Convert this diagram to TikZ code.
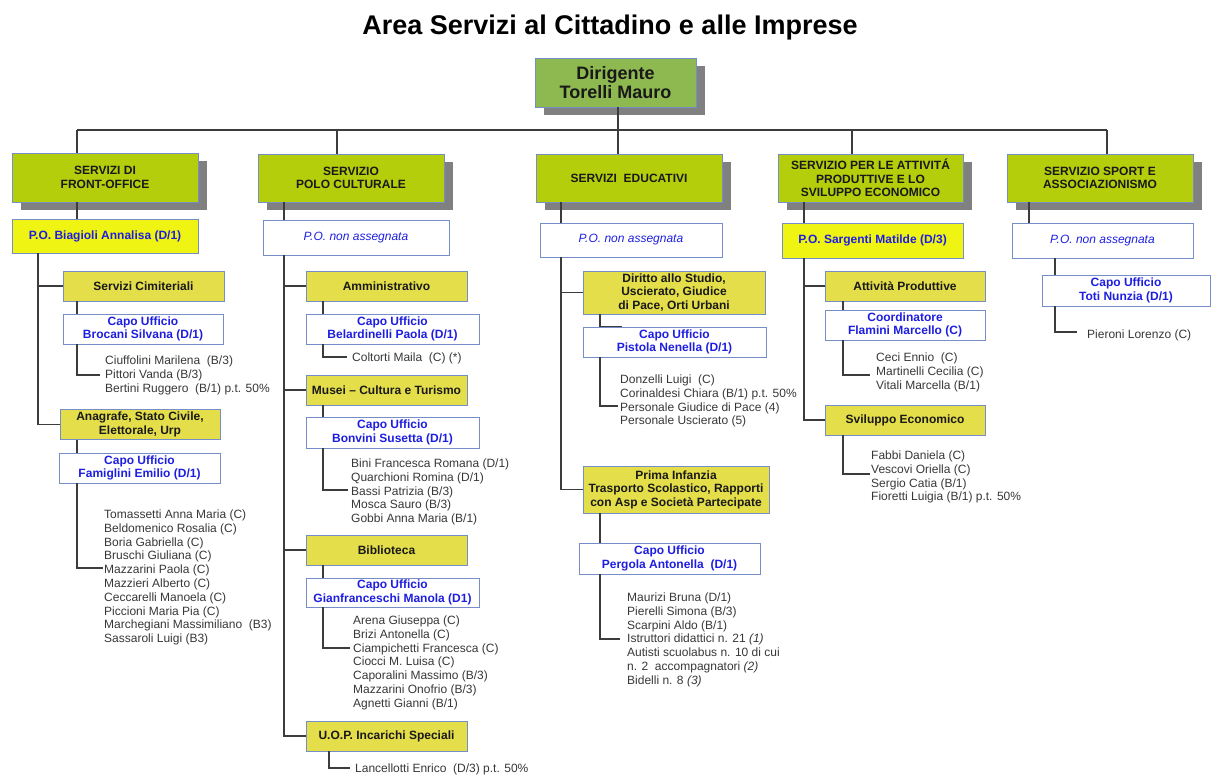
\documentclass[tikz,border=0pt]{standalone}
\usepackage{fontspec}
\setmainfont{Liberation Sans}
\usetikzlibrary{shadows}
\definecolor{dirg}{RGB}{141,185,80}
\definecolor{svcg}{RGB}{180,206,12}
\definecolor{suby}{RGB}{228,222,74}
\definecolor{poy}{RGB}{240,244,18}
\definecolor{bord}{RGB}{118,142,200}
\definecolor{bluet}{RGB}{30,30,225}
\definecolor{shad}{RGB}{128,128,128}
\definecolor{lnc}{RGB}{60,60,60}
\definecolor{txtd}{RGB}{25,25,25}
\definecolor{txtl}{RGB}{55,55,55}
\newcommand{\lstrut}{\rule{0pt}{10pt}}
\begin{document}
\begin{tikzpicture}[x=1pt,y=-1pt,
  bx/.style={draw=bord, line width=0.9pt, inner sep=0pt, align=center, text=txtd, font=\bfseries\fontsize{12}{13.5}\selectfont},
  shd/.style={drop shadow={shadow xshift=8.5pt, shadow yshift=-8pt, fill=shad, opacity=1}},
  dirbox/.style={bx, fill=dirg, shd, font=\bfseries\fontsize{18}{19.6}\selectfont},
  svcbox/.style={bx, fill=svcg, shd},
  subbox/.style={bx, fill=suby},
  pobox/.style={bx, fill=poy, text=bluet},
  capobox/.style={bx, fill=white, text=bluet},
  nabox/.style={bx, fill=white, text=bluet, font=\itshape\fontsize{12}{13.5}\selectfont},
  lst/.style={anchor=north west, inner sep=0pt, align=left, text=txtl, font=\fontsize{12}{13.8}\selectfont},
  ln/.style={draw=lnc, line width=1.2pt},
  ttl/.style={anchor=base, inner sep=0pt, text=black, font=\bfseries\fontsize{27}{30}\selectfont}
]
\useasboundingbox (0,0) rectangle (1216,783);

\node[ttl] (title) at (610,35) {Area Servizi al Cittadino e alle Imprese};
\node[dirbox, minimum width=161, minimum height=49] (dirig) at (615.5,82.5) {Dirigente\\Torelli Mauro};

% ---------- column 1
\node[svcbox, minimum width=186, minimum height=49] (fo) at (105,177.5) {SERVIZI DI\\FRONT-OFFICE};
\node[pobox, minimum width=186, minimum height=34] (po1) at (105,236) {P.O. Biagioli Annalisa (D/1)};
\node[subbox, minimum width=161, minimum height=30] (cim) at (143.5,286) {Servizi Cimiteriali};
\node[capobox, minimum width=160, minimum height=30] (cu1) at (143,329) {Capo Ufficio\\Brocani Silvana (D/1)};
\node[lst] (l1) at (105,354.3) {\lstrut Ciuffolini Marilena\ \ (B/3)\\Pittori Vanda (B/3)\\Bertini Ruggero\ \ (B/1) p.t. 50\%};
\node[subbox, minimum width=160, minimum height=30] (ana) at (140,424.5) {Anagrafe, Stato Civile,\\Elettorale, Urp};
\node[capobox, minimum width=161, minimum height=30] (cu2) at (139.5,468) {Capo Ufficio\\Famiglini Emilio (D/1)};
\node[lst] (l2) at (104,508.3) {\lstrut Tomassetti Anna Maria (C)\\Beldomenico Rosalia (C)\\Boria Gabriella (C)\\Bruschi Giuliana (C)\\Mazzarini Paola (C)\\Mazzieri Alberto (C)\\Ceccarelli Manoela (C)\\Piccioni Maria Pia (C)\\Marchegiani Massimiliano\ \ (B3)\\Sassaroli Luigi (B3)};

% ---------- column 2
\node[svcbox, minimum width=186, minimum height=48] (pc) at (351,178) {SERVIZIO\\POLO CULTURALE};
\node[nabox, minimum width=186, minimum height=35] (po2) at (356,237.5) {P.O. non assegnata};
\node[subbox, minimum width=161, minimum height=30] (amm) at (386.5,286) {Amministrativo};
\node[capobox, minimum width=173, minimum height=30] (cu3) at (392.5,329) {Capo Ufficio\\Belardinelli Paola (D/1)};
\node[lst] (l3) at (352,351.3) {\lstrut Coltorti Maila\ \ (C) (*)};
\node[subbox, minimum width=161, minimum height=30] (mus) at (386.5,390) {Musei – Cultura e Turismo};
\node[capobox, minimum width=173, minimum height=31] (cu4) at (392.5,432.5) {Capo Ufficio\\Bonvini Susetta (D/1)};
\node[lst] (l4) at (351,457.3) {\lstrut Bini Francesca Romana (D/1)\\Quarchioni Romina (D/1)\\Bassi Patrizia (B/3)\\Mosca Sauro (B/3)\\Gobbi Anna Maria (B/1)};
\node[subbox, minimum width=161, minimum height=30] (bib) at (386.5,550) {Biblioteca};
\node[capobox, minimum width=173, minimum height=29] (cu5) at (392.5,592.5) {Capo Ufficio\\Gianfranceschi Manola (D1)};
\node[lst] (l5) at (353,614.3) {\lstrut Arena Giuseppa (C)\\Brizi Antonella (C)\\Ciampichetti Francesca (C)\\Ciocci M. Luisa (C)\\Caporalini Massimo (B/3)\\Mazzarini Onofrio (B/3)\\Agnetti Gianni (B/1)};
\node[subbox, minimum width=161, minimum height=30] (uop) at (386.5,736) {U.O.P. Incarichi Speciali};
\node[lst] (l6) at (355,762.3) {\lstrut Lancellotti Enrico\ \ (D/3) p.t. 50\%};

% ---------- column 3
\node[svcbox, minimum width=186, minimum height=48] (ed) at (629,178) {SERVIZI\ \ EDUCATIVI};
\node[nabox, minimum width=182, minimum height=34] (po3) at (631,240) {P.O. non assegnata};
\node[subbox, minimum width=182, minimum height=43] (dir) at (674,292.5) {Diritto allo Studio,\\Uscierato, Giudice\\di Pace, Orti Urbani};
\node[capobox, minimum width=183, minimum height=30] (cu6) at (674.5,342) {Capo Ufficio\\Pistola Nenella (D/1)};
\node[lst] (l7) at (620,373.3) {\lstrut Donzelli Luigi\ \ (C)\\Corinaldesi Chiara (B/1) p.t. 50\%\\Personale Giudice di Pace (4)\\Personale Uscierato (5)};
\node[subbox, minimum width=186, minimum height=47] (pri) at (676,489.5) {Prima Infanzia\\Trasporto Scolastico, Rapporti\\con Asp e Società Partecipate};
\node[capobox, minimum width=181, minimum height=31] (cu7) at (669.5,558.5) {Capo Ufficio\\Pergola Antonella\ \ (D/1)};
\node[lst] (l8) at (627,591.3) {\lstrut Maurizi Bruna (D/1)\\Pierelli Simona (B/3)\\Scarpini Aldo (B/1)\\Istruttori didattici n. 21 \textit{(1)}\\Autisti scuolabus n. 10 di cui\\n. 2\ \ accompagnatori \textit{(2)}\\Bidelli n. 8 \textit{(3)}};

% ---------- column 4
\node[svcbox, minimum width=185, minimum height=48] (pr) at (870.5,178) {SERVIZIO PER LE ATTIVITÁ\\PRODUTTIVE E LO\\SVILUPPO ECONOMICO};
\node[pobox, minimum width=181, minimum height=35] (po4) at (872.5,240.5) {P.O. Sargenti Matilde (D/3)};
\node[subbox, minimum width=160, minimum height=30] (att) at (905,286) {Attività Produttive};
\node[capobox, minimum width=160, minimum height=30] (co) at (905,325) {Coordinatore\\Flamini Marcello (C)};
\node[lst] (l9) at (876,351.3) {\lstrut Ceci Ennio\ \ (C)\\Martinelli Cecilia (C)\\Vitali Marcella (B/1)};
\node[subbox, minimum width=160, minimum height=30] (svi) at (905,420) {Sviluppo Economico};
\node[lst] (l10) at (871,449.3) {\lstrut Fabbi Daniela (C)\\Vescovi Oriella (C)\\Sergio Catia (B/1)\\Fioretti Luigia (B/1) p.t. 50\%};

% ---------- column 5
\node[svcbox, minimum width=186, minimum height=48] (sp) at (1100,178) {SERVIZIO SPORT E\\ASSOCIAZIONISMO};
\node[nabox, minimum width=181, minimum height=35] (po5) at (1102.5,240.5) {P.O. non assegnata};
\node[capobox, minimum width=168, minimum height=31] (cu8) at (1126,290.5) {Capo Ufficio\\Toti Nunzia (D/1)};
\node[lst] (l11) at (1087,328.3) {\lstrut Pieroni Lorenzo (C)};

% ---------- connectors
\coordinate (dj) at (618,130);
\coordinate (b1) at (77,130);
\coordinate (b2) at (337,130);
\coordinate (b3) at (618,130);
\coordinate (b4) at (852,130);
\coordinate (b5) at (1107,130);
\draw[ln] (dj |- dirig.south) -- (dj);
\draw[ln] (b1) -- (b5);
\draw[ln] (b1) -- (b1 |- fo.north);
\draw[ln] (b2) -- (b2 |- pc.north);
\draw[ln] (b3) -- (b3 |- ed.north);
\draw[ln] (b4) -- (b4 |- pr.north);
\draw[ln] (b5) -- (b5 |- sp.north);

% column 1
\coordinate (t1) at (38,0);
\coordinate (s1) at (77,0);
\coordinate (e1) at (100,375);
\coordinate (e2) at (103,568);
\draw[ln] (s1 |- fo.south) -- (s1 |- po1.north);
\draw[ln] (t1 |- po1.south) -- (t1 |- ana.west) -- (ana.west);
\draw[ln] (t1 |- cim.west) -- (cim.west);
\draw[ln] (s1 |- cim.south) -- (s1 |- cu1.north);
\draw[ln] (s1 |- cu1.south) -- (s1 |- e1) -- (e1);
\draw[ln] (s1 |- ana.south) -- (s1 |- cu2.north);
\draw[ln] (s1 |- cu2.south) -- (s1 |- e2) -- (e2);

% column 2
\coordinate (t2) at (284,0);
\coordinate (s2) at (323,0);
\coordinate (u2) at (329,0);
\coordinate (e3) at (347,357);
\coordinate (e4) at (348,490);
\coordinate (e5) at (350,648);
\coordinate (e6) at (350,768);
\draw[ln] (t2 |- pc.south) -- (t2 |- po2.north);
\draw[ln] (t2 |- po2.south) -- (t2 |- uop.west) -- (uop.west);
\draw[ln] (t2 |- amm.west) -- (amm.west);
\draw[ln] (t2 |- mus.west) -- (mus.west);
\draw[ln] (t2 |- bib.west) -- (bib.west);
\draw[ln] (s2 |- amm.south) -- (s2 |- cu3.north);
\draw[ln] (s2 |- cu3.south) -- (s2 |- e3) -- (e3);
\draw[ln] (s2 |- mus.south) -- (s2 |- cu4.north);
\draw[ln] (s2 |- cu4.south) -- (s2 |- e4) -- (e4);
\draw[ln] (s2 |- bib.south) -- (s2 |- cu5.north);
\draw[ln] (s2 |- cu5.south) -- (s2 |- e5) -- (e5);
\draw[ln] (u2 |- uop.south) -- (u2 |- e6) -- (e6);

% column 3
\coordinate (t3) at (561,0);
\coordinate (s3) at (600,0);
\coordinate (k3) at (622,0);
\coordinate (e7) at (618,406);
\coordinate (e8) at (620,639);
\draw[ln] (t3 |- ed.south) -- (t3 |- po3.north);
\draw[ln] (t3 |- po3.south) -- (t3 |- pri.west) -- (pri.west);
\draw[ln] (t3 |- dir.west) -- (dir.west);
\draw[ln] (s3 |- dir.south) -- (s3 |- cu6.north) -- (k3 |- cu6.north);
\draw[ln] (s3 |- cu6.south) -- (s3 |- e7) -- (e7);
\draw[ln] (s3 |- pri.south) -- (s3 |- cu7.north);
\draw[ln] (s3 |- cu7.south) -- (s3 |- e8) -- (e8);

% column 4
\coordinate (t4) at (804,0);
\coordinate (s4) at (843,0);
\coordinate (e9) at (870,375);
\coordinate (e10) at (870,474);
\draw[ln] (t4 |- pr.south) -- (t4 |- po4.north);
\draw[ln] (t4 |- po4.south) -- (t4 |- svi.west) -- (svi.west);
\draw[ln] (t4 |- att.west) -- (att.west);
\draw[ln] (s4 |- att.south) -- (s4 |- co.north);
\draw[ln] (s4 |- co.south) -- (s4 |- e9) -- (e9);
\draw[ln] (s4 |- svi.south) -- (s4 |- e10) -- (e10);

% column 5
\coordinate (t5) at (1029,0);
\coordinate (s5) at (1055,0);
\coordinate (e11) at (1077,332);
\draw[ln] (t5 |- sp.south) -- (t5 |- po5.north);
\draw[ln] (s5 |- po5.south) -- (s5 |- cu8.north);
\draw[ln] (s5 |- cu8.south) -- (s5 |- e11) -- (e11);
\end{tikzpicture}
\end{document}
